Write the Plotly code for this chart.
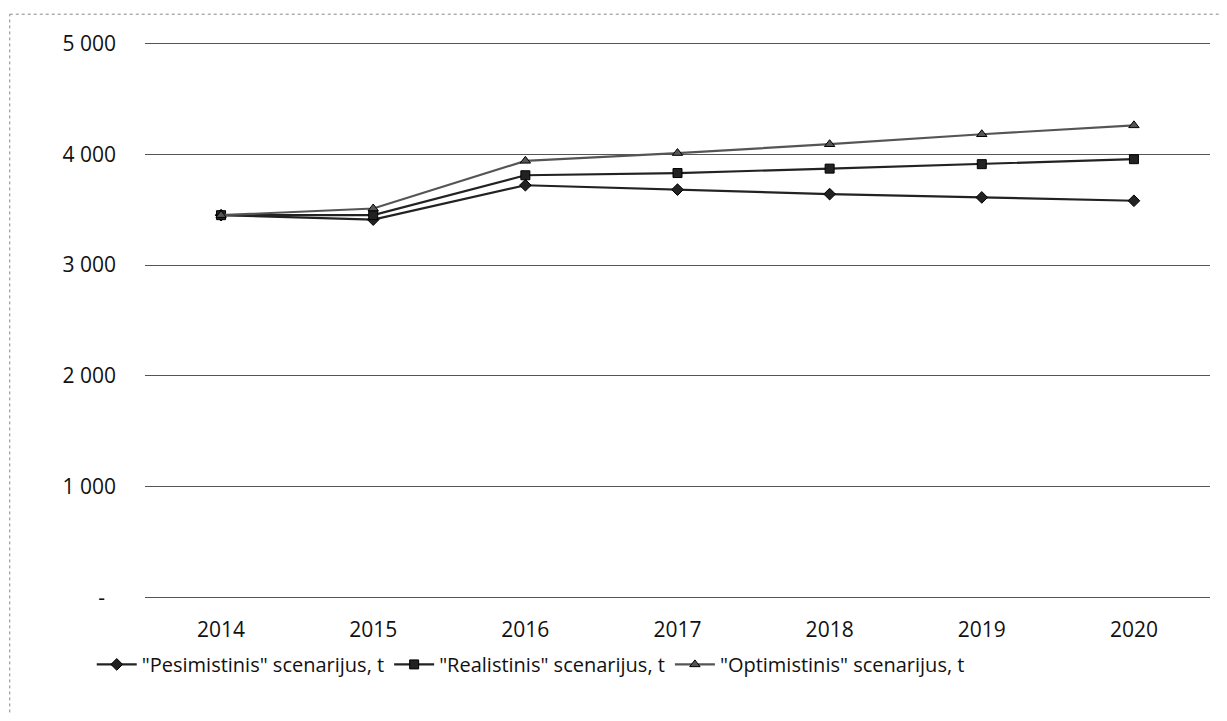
import plotly.graph_objects as go

years = ["2014", "2015", "2016", "2017", "2018", "2019", "2020"]
pesimistinis = [3450, 3410, 3720, 3680, 3640, 3610, 3580]
realistinis = [3450, 3450, 3810, 3830, 3870, 3910, 3955]
optimistinis = [3450, 3510, 3940, 4010, 4090, 4180, 4260]
names = ['"Pesimistinis" scenarijus, t', '"Realistinis" scenarijus, t', '"Optimistinis" scenarijus, t']
y_ticks = [0, 1000, 2000, 3000, 4000, 5000]
y_labels = ["-\u00a0\u00a0", "1 000", "2 000", "3 000", "4 000", "5 000"]

FONT = "Open Sans"
FS = 21
FS_LEG = 20
fig = go.Figure()
series = [
    (pesimistinis, "diamond", "#222222", 9),
    (realistinis, "square", "#222222", 9),
    (optimistinis, "triangle-up", "#555555", 9),
]
for (vals, sym, col, sz), nm in zip(series, names):
    fig.add_trace(go.Scatter(
        x=years, y=vals, name=nm, mode="lines+markers",
        line=dict(color=col, width=2.2),
        marker=dict(symbol=sym, size=sz, color=col, line=dict(color="#000000", width=1)),
    ))

fig.update_layout(
    width=1211, height=705,
    margin=dict(l=137, r=9, t=32, b=112),
    paper_bgcolor="white", plot_bgcolor="white",
    font=dict(family=FONT, size=FS, color="#111111"),
    showlegend=True,
    legend=dict(orientation="h", x=-0.05, xanchor="left", y=-0.113, yanchor="middle",
                font=dict(family=FONT, size=FS_LEG, color="#111111"), itemwidth=40,
                traceorder="normal"),
    xaxis=dict(showgrid=False, showline=False, zeroline=False, ticks="",
               tickfont=dict(size=FS), range=[-0.5, 6.5], ticklabelstandoff=14),
    yaxis=dict(range=[-30, 5030], tickvals=y_ticks, ticktext=y_labels,
               showgrid=True, gridcolor="#555555", gridwidth=1, zeroline=False,
               showline=False, ticks="", ticklabelstandoff=28,
               tickfont=dict(size=FS)),
)
# scanned chart frame (dotted border left/top)
fig.add_shape(type="line", xref="paper", yref="paper", x0=-0.127, x1=-0.127, y0=-0.22, y1=1.046,
              line=dict(color="#888888", width=1, dash="dot"))
fig.add_shape(type="line", xref="paper", yref="paper", x0=-0.127, x1=1.01, y0=1.046, y1=1.046,
              line=dict(color="#888888", width=1, dash="dot"))
fig.write_html("out.html")
